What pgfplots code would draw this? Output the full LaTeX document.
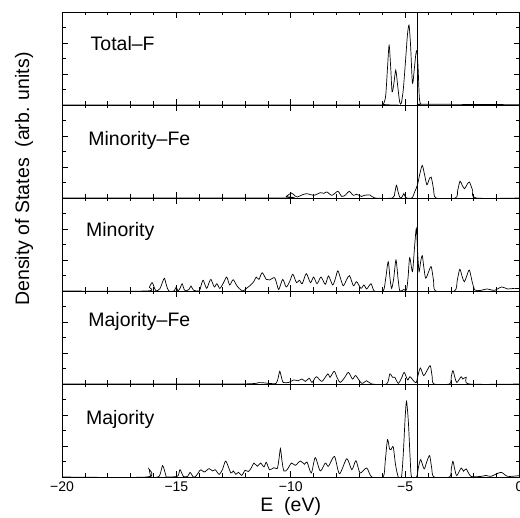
\documentclass[border=0pt]{standalone}
\usepackage{fontspec}
\setmainfont{Liberation Sans}
\usepackage{pgfplots}
\pgfplotsset{compat=1.18}

\pgfplotsset{
  dos/.style={
    scale only axis, width=457.5pt, height=93pt,
    anchor=south west,
    xmin=-20, xmax=0, ymin=0, ymax=6,
    xtick={-20,-15,-10,-5,0}, minor x tick num=4,
    ytick={2,4}, minor ytick={1,3,5},
    xticklabels={}, yticklabels={},
    tick align=inside, xtick pos=both, ytick pos=both,
    major tick length=6pt, minor tick length=3.5pt,
    axis line style={line width=0.8pt},
    tick style={black, line width=0.6pt},
  },
  dosline/.style={black, no marks, line width=0.7pt, smooth, tension=0.45},
}
\tikzset{panel/.style={anchor=west, font=\fontsize{19.5}{22}\selectfont}}
\newcommand{\fermi}{\addplot[black, no marks, line width=0.6pt] coordinates {(-4.47,0) (-4.47,6)};}
\newcommand{\tl}[1]{\mbox{\fontsize{14}{16}\selectfont #1}}

\begin{document}
\begin{tikzpicture}[x=1pt,y=1pt]
\useasboundingbox (0,0) rectangle (520,518);

% Majority
\begin{axis}[dos, at={(62pt,41pt)},
  xticklabels={\tl{−20},\tl{−15},\tl{−10},\tl{−5},\tl{0}},
  xticklabel style={yshift=-1pt}]
\addplot[dosline] coordinates {(-20,0) (-16.29,0) (-16.2,0.52) (-16.1,0) (-15.75,0.05) (-15.6,0.73) (-15.45,0.05) (-15.42,0)
 (-14.95,0.05) (-14.84,0.47) (-14.69,0.03) (-14.5,0.05) (-14.40,0.3) (-14.26,0) (-14.15,0.05) (-14.03,0.3)
 (-13.93,0.47) (-13.78,0.32) (-13.57,0.54) (-13.42,0.39) (-13.30,0.47) (-13.13,0.17) (-12.98,0.5) (-12.84,1.03)
 (-12.62,0.26) (-12.51,0.39) (-12.40,0.17) (-12.29,0.3) (-12.14,0.1) (-12.0,0.43) (-11.85,0.35) (-11.72,0.6)
 (-11.61,0.9) (-11.46,0.69) (-11.32,0.9) (-11.17,0.65) (-11.07,0.95) (-10.93,0.47) (-10.74,0.6) (-10.59,0.55)
 (-10.52,1.1) (-10.45,1.83) (-10.38,1.0) (-10.30,0.39) (-10.16,0.47) (-9.97,0.9) (-9.80,0.75) (-9.58,1.03)
 (-9.40,0.82) (-9.29,0.97) (-9.10,0.26) (-8.93,1.25) (-8.71,0.39) (-8.49,0.9) (-8.35,0.69) (-8.09,1.33)
 (-7.87,0.21) (-7.55,1.18) (-7.33,0.47) (-7.15,1.05) (-6.97,0.26) (-6.68,0.58) (-6.46,0) (-5.96,0)
 (-5.87,1.0) (-5.77,2.41) (-5.68,1.8) (-5.62,1.76) (-5.52,1.94) (-5.42,0.8) (-5.30,0) (-5.16,0)
 (-5.08,1.5) (-5.0,3.8) (-4.94,4.88) (-4.86,3.6) (-4.78,1.2) (-4.72,0) (-4.5,0) (-4.42,0.6) (-4.32,1.12)
 (-4.17,0.52) (-4.05,1.0) (-3.93,1.38) (-3.84,0.6) (-3.74,0) (-3.06,0) (-2.98,0.55) (-2.91,1.01) (-2.83,0.5)
 (-2.74,0.09) (-2.55,0.58) (-2.45,0.37) (-2.33,0.52) (-2.12,0.04) (-1.68,0.04) (-1.46,0.1) (-1.25,0.04)
 (-0.81,0.3) (-0.52,0.04) (0,0.09)};
\fermi
\node[panel] at (rel axis cs:0.045,0.62) {Majority};
\end{axis}

% Majority-Fe
\begin{axis}[dos, at={(62pt,134pt)}]
\addplot[dosline] coordinates {(-20,0) (-12.3,0) (-11.39,0.09) (-10.96,0.04) (-10.64,0.04) (-10.55,0.4) (-10.48,0.82)
 (-10.40,0.4) (-10.33,0.1) (-10.09,0.1) (-9.87,0.26) (-9.68,0.21) (-9.51,0.32) (-9.36,0.17) (-9.19,0.37)
 (-9.07,0.1) (-8.88,0.47) (-8.64,0.17) (-8.38,0.65) (-8.28,0.43) (-8.10,0.82) (-7.97,0.4) (-7.84,0.1)
 (-7.65,0.4) (-7.48,0.75) (-7.30,0.32) (-7.16,0.54) (-6.90,0.04) (-6.68,0.21) (-6.46,0) (-5.81,0)
 (-5.67,0.65) (-5.55,0.43) (-5.45,0.43) (-5.30,0.04) (-5.15,0.4) (-5.04,0.75) (-4.89,0.26) (-4.79,0.47)
 (-4.61,0.17) (-4.51,0.1) (-4.43,0.6) (-4.33,1.03) (-4.19,0.54) (-4.03,0.9) (-3.90,1.18) (-3.82,0.5)
 (-3.74,0) (-3.06,0) (-2.98,0.5) (-2.91,0.86) (-2.82,0.4) (-2.74,0.1) (-2.55,0.47) (-2.48,0.32)
 (-2.33,0.43) (-2.19,0) (0,0)};
\fermi
\node[panel] at (rel axis cs:0.05,0.67) {Majority--Fe};
\end{axis}

% Minority
\begin{axis}[dos, at={(62pt,227pt)}]
\addplot[dosline] coordinates {(-20,0) (-16.3,0) (-16.18,0.25) (-16.06,0.54) (-15.96,0.2) (-15.88,0) (-15.72,0.15)
 (-15.6,0.6) (-15.52,0.82) (-15.43,0.35) (-15.33,0) (-15.1,0) (-15.01,0.25) (-14.93,0) (-14.83,0.2)
 (-14.75,0.47) (-14.66,0.1) (-14.6,0) (-14.45,0.1) (-14.36,0.32) (-14.25,0.05) (-14.0,0) (-13.92,0.35)
 (-13.83,0.69) (-13.68,0.17) (-13.58,0.5) (-13.49,0.75) (-13.34,0.26) (-13.23,0.47) (-13.10,0.17)
 (-12.95,0.5) (-12.80,0.9) (-12.67,0.39) (-12.52,0.73) (-12.38,0.4) (-12.26,0.17) (-12.09,0) (-11.9,0.21)
 (-11.75,0.39) (-11.62,0.6) (-11.51,0.9) (-11.39,0.75) (-11.25,1.18) (-11.07,0.75) (-10.93,0.71)
 (-10.71,0.86) (-10.6,0.4) (-10.52,0.1) (-10.35,0.75) (-10.2,0.26) (-10.05,0.6) (-9.91,1.08) (-9.75,0.54)
 (-9.62,0.69) (-9.5,0.47) (-9.32,1.12) (-9.14,0.54) (-9.0,0.9) (-8.85,0.47) (-8.68,0.9) (-8.49,0.43)
 (-8.35,0.97) (-8.17,0.39) (-8.05,0.8) (-7.94,1.3) (-7.8,0.7) (-7.70,0.34) (-7.55,0.75) (-7.43,0.99)
 (-7.26,0.34) (-7.12,0.6) (-6.93,0.17) (-6.80,0.39) (-6.68,0.13) (-6.49,0.47) (-6.35,0) (-5.96,0)
 (-5.85,0.8) (-5.74,1.89) (-5.66,0.8) (-5.59,0.17) (-5.5,0.8) (-5.40,2.0) (-5.31,0.8) (-5.23,0)
 (-5.06,0.1) (-4.94,0.06) (-4.87,0.9) (-4.80,2.15) (-4.68,1.25) (-4.6,2.6) (-4.51,4.04) (-4.45,2.4)
 (-4.39,1.25) (-4.32,1.9) (-4.25,2.28) (-4.18,1.5) (-4.1,0.82) (-3.97,1.25) (-3.86,1.57) (-3.76,0.7)
 (-3.67,0) (-2.84,0) (-2.72,0.7) (-2.61,1.4) (-2.5,0.9) (-2.41,0.6) (-2.3,1.0) (-2.19,1.35) (-2.07,0.6)
 (-1.95,0.06) (-1.69,0.04) (-1.42,0.13) (-1.1,0.04) (-0.78,0.26) (-0.52,0.13) (-0.23,0.17) (0,0.15)};
\fermi
\node[panel] at (rel axis cs:0.045,0.64) {Minority};
\end{axis}

% Minority-Fe
\begin{axis}[dos, at={(62pt,320pt)}]
\addplot[dosline] coordinates {(-20,0) (-10.5,0) (-10.2,0.1) (-9.97,0.32) (-9.8,0.12) (-9.72,0.06) (-9.5,0.2)
 (-9.29,0.28) (-9.0,0.17) (-8.71,0.34) (-8.55,0.3) (-8.42,0.39) (-8.2,0.17) (-7.94,0.43) (-7.77,0.1)
 (-7.6,0.2) (-7.45,0.43) (-7.26,0.17) (-7.12,0.24) (-6.9,0.1) (-6.78,0.17) (-6.54,0.2) (-6.33,0)
 (-5.55,0) (-5.45,0.35) (-5.38,0.82) (-5.30,0.35) (-5.22,0) (-5.12,0.1) (-5.06,0.28) (-5.0,0.1)
 (-4.94,0) (-4.7,0) (-4.58,0.4) (-4.46,0.85) (-4.35,1.6) (-4.25,2.1) (-4.15,1.5) (-4.05,0.85)
 (-3.95,1.2) (-3.86,1.35) (-3.76,0.6) (-3.65,0) (-2.8,0) (-2.7,0.5) (-2.6,1.08) (-2.5,0.8) (-2.4,0.6)
 (-2.3,0.85) (-2.19,1.03) (-2.05,0.5) (-1.9,0) (0,0)};
\fermi
\node[panel] at (rel axis cs:0.05,0.62) {Minority--Fe};
\end{axis}

% Total-F
\begin{axis}[dos, at={(62pt,413pt)}]
\addplot[dosline] coordinates {(-20,0) (-6.1,0) (-5.95,0.05) (-5.85,0.6) (-5.77,2.4) (-5.70,3.85) (-5.63,2.4)
 (-5.57,0.85) (-5.49,1.4) (-5.41,2.25) (-5.33,1.3) (-5.24,0.2) (-5.17,0.1) (-5.08,1.0) (-4.98,2.9)
 (-4.90,4.5) (-4.83,5.15) (-4.76,3.8) (-4.68,1.4) (-4.60,2.3) (-4.53,3.3) (-4.48,3.5) (-4.43,2.3)
 (-4.38,0.5) (-4.32,0.05) (-4.2,0.05) (0,0.02)};
\addplot[black, no marks, line width=1pt] coordinates {(-4.47,0) (-4.47,6)};
\node[panel] at (rel axis cs:0.055,0.66) {Total--F};
\end{axis}

\node[rotate=90, font=\fontsize{19.5}{22}\selectfont] at (24,339) {Density of States\ \ (arb. units)};
\node[font=\fontsize{19.5}{22}\selectfont, anchor=base] at (290.75,6) {E\ \ (eV)};
\end{tikzpicture}
\end{document}
